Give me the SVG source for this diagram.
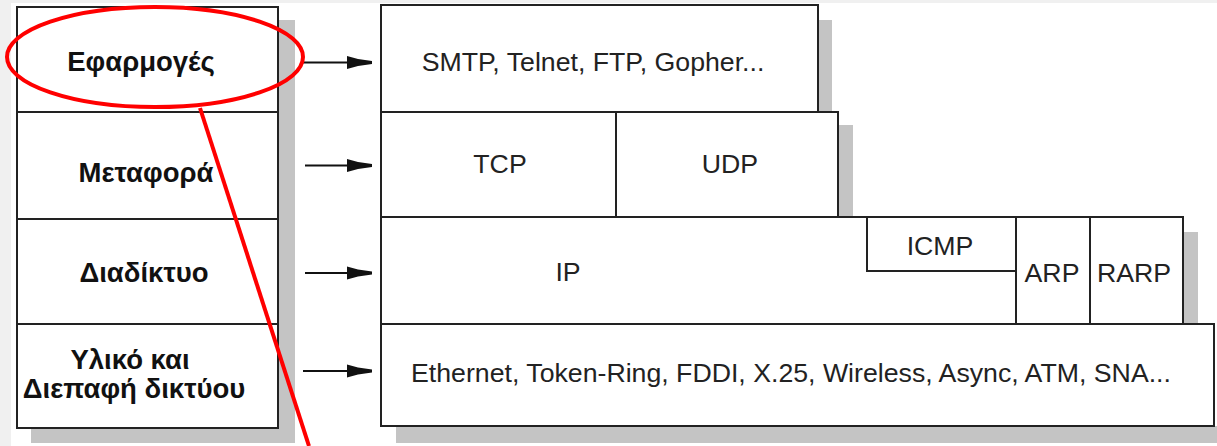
<svg xmlns="http://www.w3.org/2000/svg" width="1217" height="446" viewBox="0 0 1217 446">
<style>
.bg{fill:#f0f0f0}
.box{fill:#fff;stroke:#222;stroke-width:2}
.sh{fill:#c4c4c4}
.lt{font-family:"Liberation Sans",Arial,sans-serif;font-weight:bold;font-size:27.5px;fill:#111;text-anchor:middle}
.rt{font-family:"Liberation Sans",Arial,sans-serif;font-size:26.7px;fill:#222;text-anchor:middle}
.ln{stroke:#111;stroke-width:2;fill:none}
.ah{fill:#111}
.red{stroke:#f00;stroke-width:4;fill:none}
</style>
<defs>
<marker id="arr" markerWidth="26" markerHeight="14" refX="25" refY="7" orient="auto" markerUnits="userSpaceOnUse">
<polygon class="ah" points="0,0.5 11,3.5 25,5.5 25,8.5 11,10.5 0,13.5"/>
</marker>
</defs>
<rect class="bg" x="0" y="0" width="1217" height="446"/>
<rect x="11" y="3" width="1206" height="443" fill="#fff"/>

<g id="left-stack">
<rect class="sh" x="278" y="20" width="17" height="423"/>
<rect class="sh" x="31" y="428" width="264" height="15"/>
<g id="app-layer"><rect class="box" x="17" y="7" width="261" height="105"/><text class="lt" x="141" y="71">Εφαρμογές</text></g>
<g id="transport-layer"><rect class="box" x="17" y="112" width="261" height="107"/><text class="lt" x="146" y="182">Μεταφορά</text></g>
<g id="internet-layer"><rect class="box" x="17" y="219" width="261" height="105"/><text class="lt" x="144" y="282">Διαδίκτυο</text></g>
<g id="link-layer"><rect class="box" x="17" y="324" width="261" height="104"/><text class="lt" x="130" y="369">Υλικό και</text><text class="lt" x="134" y="398">Διεπαφή δικτύου</text></g>
</g>

<g id="right-stack">
<rect class="sh" x="818" y="20" width="14" height="92"/>
<rect class="sh" x="838" y="125" width="15" height="92"/>
<rect class="sh" x="1183" y="232" width="15" height="92"/>
<rect class="sh" x="396" y="426" width="821" height="17"/>
<g id="app-protocols"><rect class="box" x="381" y="5" width="437" height="107"/><text class="rt" x="593" y="71">SMTP, Telnet, FTP, Gopher...</text></g>
<g id="tcp"><rect class="box" x="381" y="112" width="235" height="105"/><text class="rt" x="500" y="173">TCP</text></g>
<g id="udp"><rect class="box" x="616" y="112" width="222" height="105"/><text class="rt" x="730" y="173">UDP</text></g>
<g id="ip"><rect class="box" x="381" y="217" width="802" height="107"/><text class="rt" x="568" y="281">IP</text></g>
<g id="icmp"><rect class="box" x="867" y="217" width="149" height="54"/><text class="rt" x="940" y="255">ICMP</text></g>
<g id="arp"><rect class="box" x="1016" y="217" width="74" height="107"/><text class="rt" x="1052" y="282">ARP</text></g>
<g id="rarp"><rect class="box" x="1090" y="217" width="93" height="107"/><text class="rt" x="1134" y="282">RARP</text></g>
<g id="network"><rect class="box" x="381" y="324" width="833" height="102"/><text class="rt" x="791" y="382">Ethernet, Token-Ring, FDDI, X.25, Wireless, Async, ATM, SNA...</text></g>
</g>

<g id="connectors">
<line class="ln" x1="303" y1="62.5" x2="372" y2="62.5" marker-end="url(#arr)"/>
<line class="ln" x1="305" y1="165.5" x2="372" y2="165.5" marker-end="url(#arr)"/>
<line class="ln" x1="305" y1="273" x2="372" y2="273" marker-end="url(#arr)"/>
<line class="ln" x1="303" y1="371" x2="372" y2="371" marker-end="url(#arr)"/>
</g>

<g id="highlight">
<ellipse class="red" cx="155" cy="57" rx="148" ry="50"/>
<line class="red" x1="200" y1="108" x2="309" y2="446" stroke-width="2.5"/>
</g>
</svg>
